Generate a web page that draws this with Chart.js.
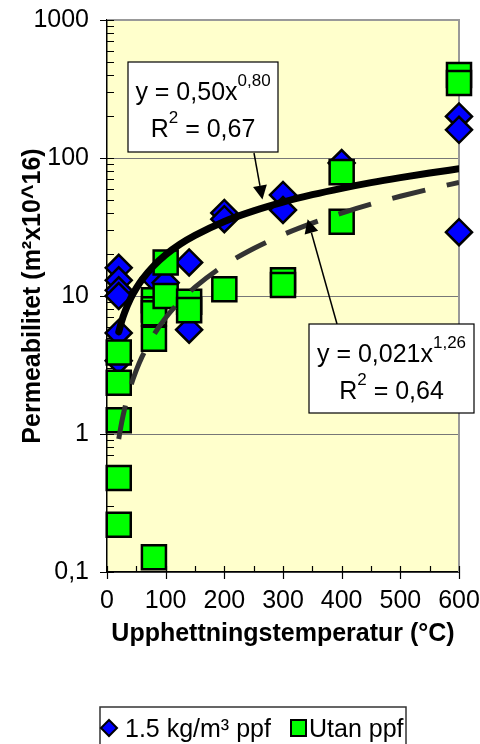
<!DOCTYPE html>
<html>
<head>
<meta charset="utf-8">
<script src="https://cdn.jsdelivr.net/npm/chart.js@4.4.1/dist/chart.umd.min.js"></script>
<style>
  html, body { margin: 0; padding: 0; background: #fff; }
  #chart { display: block; }
</style>
</head>
<body>
<canvas id="chart" width="480" height="744"></canvas>
<script>
// data
const ppfTemp = [20, 20, 20, 20, 20, 20, 80, 100, 140, 140, 200, 200, 300, 300, 400, 600, 600, 600];
const ppfPerm = [16, 13, 11, 10, 5.4, 3.4, 13.5, 12.5, 17.5, 5.7, 40, 36, 54, 42, 92, 200, 160, 29];
const utanTemp = [20, 20, 20, 20, 20, 80, 80, 80, 80, 80, 100, 100, 140, 140, 200, 300, 300, 400, 400, 600, 600];
const utanPerm = [3.9, 2.35, 1.26, 0.48, 0.22, 9.3, 8.0, 7.5, 4.9, 0.128, 17.5, 10, 9.1, 7.9, 11.2, 13, 12, 79, 34.5, 400, 350];

// trend curves
const fitTemp = [20, 25, 30, 40, 50, 60, 80, 100, 125, 150, 200, 250, 300, 350, 400, 450, 500, 550, 600];
const fitPpf = [5.49, 6.57, 7.6, 9.56, 11.4, 13.2, 16.6, 19.9, 23.8, 27.5, 34.7, 41.4, 47.9, 54.2, 60.3, 66.3, 72.1, 77.9, 83.5];
const fitUtan = [0.92, 1.21, 1.52, 2.19, 2.9, 3.65, 5.25, 6.96, 9.21, 11.6, 16.7, 22.1, 27.8, 33.7, 39.9, 46.3, 52.8, 59.6, 66.5];

const xTicks = [0, 100, 200, 300, 400, 500, 600];
const yTicks = [0.1, 1, 10, 100, 1000];
const yTickLabels = ['0,1', '1', '10', '100', '1000'];
const seriesNames = ['1.5 kg/m³ ppf', 'Utan ppf'];

const FONT = '"Liberation Sans", Arial, sans-serif';
const BLUE = '#0000FF';
const GREEN = '#00FF00';

const toPoints = (xs, ys) => xs.map((x, i) => ({ x, y: ys[i] }));

function noPad(s) {
  s.paddingLeft = 0;
  s.paddingRight = 0;
  s.paddingTop = 0;
  s.paddingBottom = 0;
}

function diamond(ctx, x, y, r) {
  ctx.beginPath();
  ctx.moveTo(x, y - r);
  ctx.lineTo(x + r, y);
  ctx.lineTo(x, y + r);
  ctx.lineTo(x - r, y);
  ctx.closePath();
}

function arrow(ctx, x1, y1, x2, y2) {
  const a = Math.atan2(y2 - y1, x2 - x1);
  const len = 14, half = 7;
  const bx = x2 - Math.cos(a) * len, by = y2 - Math.sin(a) * len;
  ctx.beginPath();
  ctx.moveTo(x1, y1);
  ctx.lineTo(bx, by);
  ctx.strokeStyle = '#000';
  ctx.lineWidth = 1.5;
  ctx.stroke();
  ctx.beginPath();
  ctx.moveTo(x2, y2);
  ctx.lineTo(bx + Math.sin(a) * half, by - Math.cos(a) * half);
  ctx.lineTo(bx - Math.sin(a) * half, by + Math.cos(a) * half);
  ctx.closePath();
  ctx.fillStyle = '#000';
  ctx.fill();
}

// main text + superscript (+ optional tail), centred on cx
function supText(ctx, cx, baseY, main, sup, tail) {
  ctx.font = '25px ' + FONT;
  const w1 = ctx.measureText(main).width;
  const w3 = tail ? ctx.measureText(tail).width : 0;
  ctx.font = '17px ' + FONT;
  const w2 = ctx.measureText(sup).width;
  let x = cx - (w1 + w2 + w3) / 2;
  ctx.fillStyle = '#000';
  ctx.textAlign = 'left';
  ctx.textBaseline = 'alphabetic';
  ctx.font = '25px ' + FONT;
  ctx.fillText(main, x, baseY);
  x += w1;
  ctx.font = '17px ' + FONT;
  ctx.fillText(sup, x, baseY - 14);
  x += w2;
  if (tail) {
    ctx.font = '25px ' + FONT;
    ctx.fillText(tail, x, baseY);
  }
}

function fitBox(ctx, l, t, r, b, eq, exp, r2) {
  ctx.fillStyle = '#fff';
  ctx.fillRect(l, t, r - l, b - t);
  ctx.strokeStyle = '#000';
  ctx.lineWidth = 1.2;
  ctx.strokeRect(l, t, r - l, b - t);
  const cx = (l + r) / 2;
  supText(ctx, cx, t + 38, eq, exp);
  supText(ctx, cx, t + 75, 'R', '2', r2);
}

const decor = {
  id: 'decor',
  beforeDraw(chart) {
    const { ctx, chartArea: a } = chart;
    ctx.save();
    ctx.fillStyle = '#FFFFCC';
    ctx.fillRect(a.left, a.top, a.right - a.left, a.bottom - a.top);
    ctx.restore();
  },
  beforeDatasetsDraw(chart) {
    const { ctx, chartArea: a, scales } = chart;
    const x = scales.x, y = scales.y;
    ctx.save();
    // top and right frame
    ctx.strokeStyle = '#999';
    ctx.lineWidth = 2;
    ctx.beginPath();
    ctx.moveTo(a.left, a.top);
    ctx.lineTo(a.right, a.top);
    ctx.lineTo(a.right, a.bottom);
    ctx.stroke();
    // tick marks
    ctx.strokeStyle = '#000';
    ctx.lineWidth = 1.2;
    ctx.beginPath();
    for (let d = 0.1; d < 1000; d *= 10) {
      for (let k = 2; k <= 9; k++) {
        const py = Math.round(y.getPixelForValue(d * k)) + 0.5;
        ctx.moveTo(a.left, py);
        ctx.lineTo(a.left + 7, py);
      }
    }
    yTicks.forEach(v => {
      const py = Math.round(y.getPixelForValue(v)) + 0.5;
      ctx.moveTo(a.left - 7, py);
      ctx.lineTo(a.left + 7, py);
    });
    for (let v = 0; v <= 600; v += 50) {
      const px = Math.round(x.getPixelForValue(v)) + 0.5;
      ctx.moveTo(px, a.bottom - 6);
      ctx.lineTo(px, a.bottom + (v % 100 === 0 ? 7 : 0));
    }
    ctx.stroke();
    ctx.restore();
  },
  afterDraw(chart) {
    const { ctx, scales } = chart;
    const x = scales.x, y = scales.y;
    ctx.save();
    // arrows from the equation boxes to the curves
    arrow(ctx, 254, 153, x.getPixelForValue(265), y.getPixelForValue(50));
    arrow(ctx, 337, 324, x.getPixelForValue(342), y.getPixelForValue(36));
    fitBox(ctx, 128, 62, 278, 152, 'y = 0,50x', '0,80', ' = 0,67');
    fitBox(ctx, 309, 324, 474, 413, 'y = 0,021x', '1,26', ' = 0,64');

    // legend
    ctx.strokeStyle = '#333';
    ctx.lineWidth = 1.5;
    ctx.strokeRect(100, 707, 306, 60);
    ctx.lineWidth = 2;
    diamond(ctx, 109, 728, 8);
    ctx.fillStyle = BLUE;
    ctx.fill();
    ctx.strokeStyle = '#000';
    ctx.stroke();
    ctx.fillStyle = GREEN;
    ctx.fillRect(291, 720, 15, 16);
    ctx.strokeRect(291, 720, 15, 16);
    ctx.fillStyle = '#000';
    ctx.font = '25px ' + FONT;
    ctx.textAlign = 'left';
    ctx.textBaseline = 'alphabetic';
    ctx.fillText(seriesNames[0], 125, 737);
    ctx.fillText(seriesNames[1], 309, 737);
    ctx.restore();
  }
};

new Chart(document.getElementById('chart'), {
  type: 'line',
  data: {
    datasets: [
      {
        label: 'fit ppf',
        data: toPoints(fitTemp, fitPpf),
        borderColor: '#000',
        borderWidth: 7,
        pointRadius: 0,
        borderCapStyle: 'round',
        cubicInterpolationMode: 'monotone',
        order: 0
      },
      {
        label: 'fit utan',
        data: toPoints(fitTemp, fitUtan),
        borderColor: '#333',
        borderWidth: 5,
        borderDash: [34, 22],
        pointRadius: 0,
        cubicInterpolationMode: 'monotone',
        order: 1
      },
      {
        label: seriesNames[1],
        data: toPoints(utanTemp, utanPerm),
        showLine: false,
        pointStyle: 'rect',
        pointRadius: 17,
        backgroundColor: GREEN,
        borderColor: '#000',
        borderWidth: 2.5,
        clip: false,
        order: 2
      },
      {
        label: seriesNames[0],
        data: toPoints(ppfTemp, ppfPerm),
        showLine: false,
        pointStyle: 'rectRot',
        pointRadius: 13,
        backgroundColor: BLUE,
        borderColor: '#000',
        borderWidth: 2.5,
        clip: false,
        order: 3
      }
    ]
  },
  options: {
    responsive: false,
    animation: false,
    devicePixelRatio: 1,
    layout: { padding: { top: 20, right: 21, left: 0, bottom: 0 } },
    plugins: { legend: { display: false }, tooltip: { enabled: false } },
    scales: {
      x: {
        type: 'linear',
        min: 0,
        max: 600,
        afterFit: s => { s.height = 172; noPad(s); },
        afterBuildTicks: s => { s.ticks = xTicks.map(v => ({ value: v })); },
        grid: { display: false, drawTicks: false },
        border: { display: true, color: '#000', width: 1.5 },
        ticks: { padding: 14, color: '#000', font: { family: FONT, size: 25 } },
        title: {
          display: true,
          text: 'Upphettningstemperatur (°C)',
          color: '#000',
          font: { family: FONT, size: 25, weight: 'bold' },
          padding: { top: 0, bottom: 95 }
        }
      },
      y: {
        type: 'logarithmic',
        min: 0.1,
        max: 1000,
        afterFit: s => { s.width = 107; noPad(s); },
        afterBuildTicks: s => { s.ticks = yTicks.map(v => ({ value: v })); },
        grid: { color: '#777', lineWidth: 1, drawTicks: false },
        border: { display: true, color: '#000', width: 1.5 },
        ticks: {
          padding: 18,
          color: '#000',
          font: { family: FONT, size: 25 },
          callback: (v, i) => yTickLabels[i]
        },
        title: {
          display: true,
          text: 'Permeabilitet (m²x10^16)',
          color: '#000',
          font: { family: FONT, size: 25, weight: 'bold' },
          padding: { top: 18, bottom: 0 }
        }
      }
    }
  },
  plugins: [decor]
});
</script>
</body>
</html>
